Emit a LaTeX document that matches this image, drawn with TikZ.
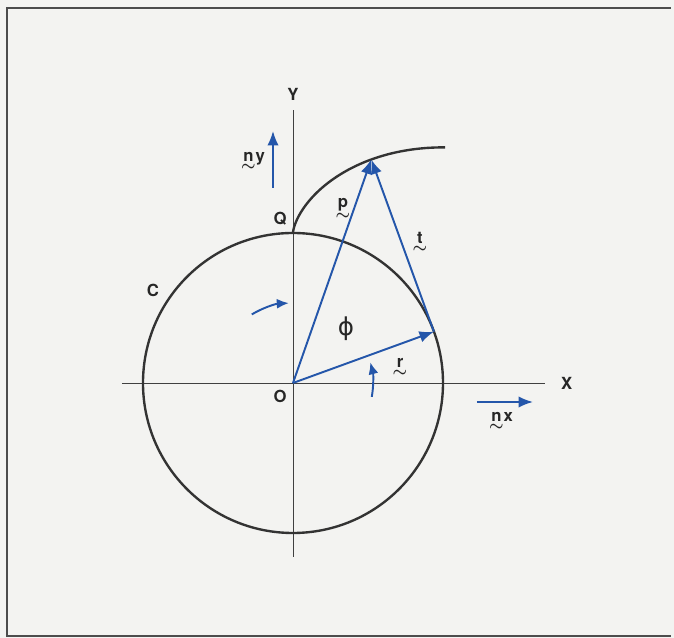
\documentclass[tikz,border=0pt]{standalone}
\usepackage{amsmath}
\usepackage{fontspec}
\setmainfont{TeX Gyre Heros}
\newfontfamily\symfont{DejaVu Sans}
\usetikzlibrary{arrows.meta,positioning}

\definecolor{vecblue}{RGB}{36,86,170}
\definecolor{paper}{RGB}{243,243,241}
% letter with a tilde under it
\newcommand{\tvec}[1]{\vtop{\offinterlineskip\halign{\hfil##\hfil\cr #1\cr
    \noalign{\kern1.5pt}$\boldsymbol{\sim}$\cr}}}

\begin{document}
\begin{tikzpicture}[x=0.02cm, y=0.02cm,
    curve/.style={line width=1.35pt, black!80},
    axis/.style={line width=0.5pt, black!75},
    vec/.style={vecblue, line width=1.1pt, -{Latex[length=2.9mm,width=2.3mm]}},
    turn/.style={vecblue, line width=1.1pt, -{Latex[length=2.4mm,width=2mm]}},
    lab/.style={font=\fontsize{9.5}{11}\selectfont\bfseries, black!85, inner sep=1pt}]

    \useasboundingbox (-293,-255) rectangle (381,383);

    % radius of C and angle of r
    \pgfmathsetmacro{\R}{150}
    \pgfmathsetmacro{\th}{20}
    % unwound angle from Q (radians)
    \pgfmathsetmacro{\a}{rad(90-\th)}
    % tip of p on the involute
    \pgfmathsetmacro{\px}{\R*cos(\th) - \a*\R*sin(\th)}
    \pgfmathsetmacro{\py}{\R*sin(\th) + \a*\R*cos(\th)}

    % paper and frame (open on the right)
    \fill[paper] (-293,-255) rectangle (381,383);
    \draw[line width=1.2pt, black!70] (378,375) -- (-286,375) -- (-286,-253) -- (378,-253);

    % axes
    \coordinate (O) at (0,0);
    \coordinate (xl) at (-171,0);
    \coordinate (xr) at (252,0);
    \coordinate (yb) at (0,-174);
    \coordinate (yt) at (0,273);
    \draw[axis] (xl) -- (xr);
    \draw[axis] (yb) -- (yt);
    \node[lab, right=8pt of xr] (Xlab) {X};
    \node[lab, above=4pt of yt] (Ylab) {Y};
    \node[lab] (Olab) at (-13,-13) {O};

    % circle C and the involute from Q
    \draw[curve] (O) circle (\R);
    \coordinate (Q) at (0,\R);
    \draw[curve] plot[domain=0:1.58, samples=60, variable=\s]
        ({\R*(sin(\s r) - \s*cos(\s r))}, {\R*(cos(\s r) + \s*sin(\s r))});
    \node[lab] (Clab) at (-140,93) {C};
    \node[lab] (Qlab) at (-13,164) {Q};

    % vectors r, p, t
    \coordinate (A) at (\th:\R);
    \coordinate (P) at (\px,\py);
    \draw[vec] (O) -- (A);
    \draw[vec] (O) -- (P);
    \draw[vec] (A) -- (P);
    \node[lab] (rlab) at (107,16) {\tvec{r}};
    \node[lab] (plab) at (50,174) {\tvec{p}};
    \node[lab] (tlab) at (127,141) {\tvec{t}};
    \node[font=\fontsize{14}{16}\selectfont\symfont, black!85] (philab) at (53,54) {ϕ};

    % turning arrows
    \draw[turn] (-10:80) arc (-10:15:80);
    \draw[turn] (121:80) arc (121:93:80);

    % unit vectors
    \coordinate (ny0) at (-20,195);
    \coordinate (ny1) at (-20,252);
    \draw[vec] (ny0) -- (ny1);
    \node[lab] (nylab) at (-40,222) {\tvec{n}y};
    \coordinate (nx0) at (184,-19);
    \coordinate (nx1) at (240,-19);
    \draw[vec] (nx0) -- (nx1);
    \node[lab] (nxlab) at (208,-38) {\tvec{n}x};

\end{tikzpicture}
\end{document}
